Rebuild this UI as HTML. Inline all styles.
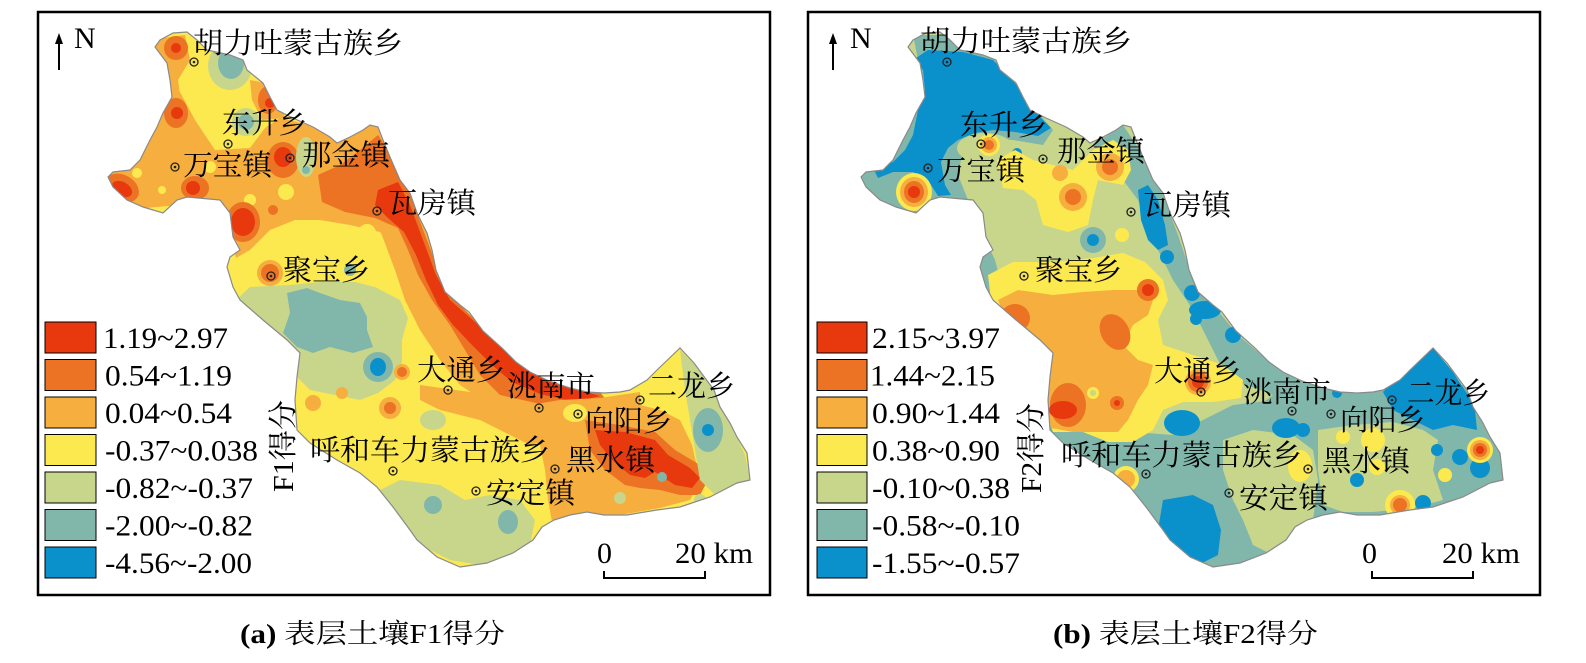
<!DOCTYPE html>
<html><head><meta charset="utf-8">
<style>
html,body{margin:0;padding:0;background:#fff;}
svg{display:block;}
.r1{fill:#e8390e}.r2{fill:#ec7224}.r3{fill:#f6ae3e}.y{fill:#fce94f}.g{fill:#c8d68b}.t{fill:#81b7aa}.b{fill:#0a91cb}
.lab{font-family:"Liberation Serif","Noto Serif CJK SC",serif;font-size:29px;fill:#000;}
.leg{font-family:"Liberation Serif",serif;font-size:30px;fill:#000;}
.dot circle.o{fill:none;stroke:#222;stroke-width:1.3}
.dot circle.i{fill:#222}
</style></head>
<body>
<svg width="1586" height="663" viewBox="0 0 1586 663" xmlns="http://www.w3.org/2000/svg">
<defs>
<clipPath id="cp"><path d="M160,40 L173,33 L187,32 L197,40 L207,50 L230,55 L243,60 L247,70 L263,83 L270,97 L277,110 L293,118 L313,127 L330,137 L337,143 L350,137 L363,130 L370,125 L378,127 L383,140 L390,157 L400,180 L410,193 L417,213 L427,233 L432,250 L436,270 L445,292 L460,305 L469,312 L483,331 L502,348 L516,362 L530,372 L549,381 L570,388 L587,392 L604,393 L620,392 L630,390 L647,380 L657,370 L680,348 L694,363 L714,390 L720,407 L730,423 L737,437 L747,453 L750,480 L737,483 L710,497 L680,507 L657,510 L627,515 L604,515 L587,512 L570,515 L554,520 L542,527 L533,540 L513,553 L487,563 L460,567 L437,557 L417,540 L410,530 L393,507 L377,487 L360,473 L337,460 L310,443 L297,430 L295,400 L297,377 L300,353 L287,340 L263,320 L240,300 L233,287 L227,267 L230,257 L240,250 L233,237 L230,213 L220,200 L187,197 L177,200 L163,213 L143,207 L127,200 L113,187 L108,177 L113,172 L130,170 L140,160 L145,150 L150,140 L157,127 L163,113 L172,97 L170,80 L167,63 L155,47 Z"/></clipPath>
<path id="bd" d="M160,40 L173,33 L187,32 L197,40 L207,50 L230,55 L243,60 L247,70 L263,83 L270,97 L277,110 L293,118 L313,127 L330,137 L337,143 L350,137 L363,130 L370,125 L378,127 L383,140 L390,157 L400,180 L410,193 L417,213 L427,233 L432,250 L436,270 L445,292 L460,305 L469,312 L483,331 L502,348 L516,362 L530,372 L549,381 L570,388 L587,392 L604,393 L620,392 L630,390 L647,380 L657,370 L680,348 L694,363 L714,390 L720,407 L730,423 L737,437 L747,453 L750,480 L737,483 L710,497 L680,507 L657,510 L627,515 L604,515 L587,512 L570,515 L554,520 L542,527 L533,540 L513,553 L487,563 L460,567 L437,557 L417,540 L410,530 L393,507 L377,487 L360,473 L337,460 L310,443 L297,430 L295,400 L297,377 L300,353 L287,340 L263,320 L240,300 L233,287 L227,267 L230,257 L240,250 L233,237 L230,213 L220,200 L187,197 L177,200 L163,213 L143,207 L127,200 L113,187 L108,177 L113,172 L130,170 L140,160 L145,150 L150,140 L157,127 L163,113 L172,97 L170,80 L167,63 L155,47 Z"/>
</defs>

<!-- frames -->
<rect x="38" y="12" width="732" height="583" fill="none" stroke="#000" stroke-width="2.5"/>
<rect x="808" y="12" width="732" height="583" fill="none" stroke="#000" stroke-width="2.5"/>

<!-- ============ F1 map ============ -->
<g clip-path="url(#cp)">
<rect x="0" y="0" width="800" height="600" class="y"/>
<!-- north -->
<polygon class="r3" points="100,170 150,125 155,90 180,92 195,120 215,150 250,148 265,128 280,118 330,130 375,115 400,170 430,240 445,285 420,268 395,252 380,232 350,225 320,220 295,220 270,230 250,250 236,258 225,215 180,205 100,212"/>
<polygon class="r3" points="150,40 185,35 190,60 178,80 180,95 160,100"/>
<polygon class="r3" points="250,80 275,85 285,118 262,120 252,100"/>
<circle class="y" cx="137" cy="173" r="5"/><circle class="y" cx="162" cy="190" r="4"/>
<circle class="y" cx="286" cy="192" r="8"/><circle class="y" cx="210" cy="167" r="6"/>
<circle class="y" cx="250" cy="200" r="6"/><circle class="y" cx="367" cy="233" r="9"/>
<ellipse class="r2" cx="176" cy="48" rx="12" ry="12"/><circle class="r1" cx="176" cy="48" r="5"/>
<ellipse class="r2" cx="176" cy="113" rx="12" ry="15"/><circle class="r1" cx="177" cy="113" r="6"/>
<ellipse class="r2" cx="268" cy="100" rx="10" ry="14"/><circle class="r1" cx="270" cy="103" r="5"/>
<ellipse class="r2" cx="283" cy="160" rx="16" ry="18"/><ellipse class="r1" cx="283" cy="157" rx="9" ry="10"/>
<ellipse class="r2" cx="195" cy="188" rx="14" ry="12"/><circle class="r1" cx="193" cy="188" r="7"/>
<ellipse class="r2" cx="122" cy="188" rx="18" ry="13" transform="rotate(30 122 188)"/><ellipse class="r1" cx="122" cy="189" rx="11" ry="7" transform="rotate(30 122 189)"/>
<ellipse class="r2" cx="243" cy="222" rx="17" ry="20"/><ellipse class="r1" cx="243" cy="222" rx="12" ry="14"/>
<circle class="r2" cx="273" cy="210" r="5"/>
<circle class="r3" cx="270" cy="273" r="13"/><circle class="r2" cx="270" cy="273" r="9"/>
<ellipse class="g" cx="230" cy="66" rx="22" ry="24"/><ellipse class="t" cx="231" cy="63" rx="13" ry="16"/>
<circle class="g" cx="246" cy="122" r="14"/><circle class="t" cx="246" cy="122" r="8"/>
<ellipse class="g" cx="306" cy="157" rx="10" ry="20"/><circle class="t" cx="306" cy="170" r="4"/>
<circle class="t" cx="350" cy="270" r="6"/>
<!-- NE bands -->
<polygon class="r3" points="380,230 400,215 420,240 440,280 460,305 490,335 520,365 560,385 600,395 560,420 520,420 490,405 460,385 440,360 420,330 405,300 395,270"/>
<polygon class="r2" points="318,175 340,165 360,150 378,135 395,160 410,195 425,235 440,275 455,300 480,325 505,350 525,370 560,385 600,392 610,405 590,415 560,410 530,405 500,395 480,375 465,350 450,325 432,300 418,275 408,250 398,228 375,218 345,212 322,202"/>
<polygon class="r1" points="378,190 398,182 410,205 423,240 436,275 450,300 475,322 500,345 520,363 545,377 580,390 600,396 575,402 540,394 512,382 492,365 472,345 453,325 438,305 426,280 416,255 404,232 388,218 375,205"/>
<circle class="r1" cx="390" cy="200" r="12"/>
<!-- middle -->
<polygon class="g" points="236,300 250,287 290,285 320,282 355,282 375,287 400,300 408,318 402,340 402,362 395,380 378,393 360,400 335,395 310,390 295,375 290,350 250,330"/>
<polygon class="t" points="287,293 307,288 320,293 340,300 360,303 367,317 367,330 373,347 353,353 330,347 313,353 297,347 283,333 290,313"/>
<circle class="g" cx="378" cy="367" r="19"/>
<circle class="t" cx="378" cy="367" r="15"/><ellipse class="b" cx="378" cy="367" rx="8" ry="9"/>
<circle class="r3" cx="402" cy="372" r="8"/><circle class="r2" cx="402" cy="372" r="5"/>
<!-- south -->
<circle class="r3" cx="313" cy="403" r="8"/><circle class="r3" cx="342" cy="393" r="6"/>
<circle class="r3" cx="390" cy="408" r="11"/><circle class="r2" cx="390" cy="408" r="6"/>
<ellipse class="g" cx="433" cy="420" rx="13" ry="10"/>
<polygon class="g" points="380,490 400,480 440,485 465,500 490,495 520,500 535,520 530,545 510,560 480,565 450,560 420,545 400,520"/>
<circle class="t" cx="433" cy="505" r="9"/><ellipse class="t" cx="508" cy="522" rx="10" ry="12"/>
<polygon class="r3" points="420,385 470,392 500,395 545,405 550,440 530,445 500,430 480,420 440,410 420,400"/>
<polygon class="r3" points="530,405 560,400 600,398 640,392 660,398 680,420 692,445 700,480 690,500 660,508 620,515 590,514 570,518 552,522 548,500 545,470 540,445 528,425"/>
<ellipse class="y" cx="575" cy="413" rx="12" ry="9"/>
<polygon class="r2" points="585,420 620,425 655,432 675,450 700,465 708,480 700,495 680,495 660,490 640,488 625,485 605,470 590,450"/>
<polygon class="r1" points="595,430 625,432 655,440 668,455 690,468 700,478 692,488 675,485 655,472 645,478 630,475 612,460 600,445"/>
<polygon class="y" points="640,392 660,375 680,350 690,365 695,400 680,420 660,410 640,405"/>
<polygon class="g" points="680,350 700,370 720,400 745,455 750,480 735,490 715,495 700,480 695,450 690,420 685,390"/>
<ellipse class="t" cx="708" cy="430" rx="15" ry="22"/><circle class="b" cx="708" cy="430" r="6"/>
<circle class="t" cx="662" cy="477" r="5"/><circle class="g" cx="700" cy="500" r="6"/><circle class="g" cx="620" cy="498" r="6"/>
</g>
<use href="#bd" fill="none" stroke="#8a8a8a" stroke-width="1.2"/>

<!-- ============ F2 map ============ -->
<g transform="translate(753,0)">
<g clip-path="url(#cp)">
<rect x="0" y="0" width="800" height="600" class="g"/>
<polygon class="t" points="100,170 120,150 150,140 160,100 165,60 160,35 215,35 240,58 270,95 300,130 290,145 260,140 225,138 210,150 205,175 215,200 228,230 242,260 250,290 235,300 220,260 200,210 150,215 100,210"/>
<polygon class="t" points="340,145 370,125 390,155 410,195 425,235 440,280 460,305 485,335 505,352 530,372 560,385 600,392 640,390 660,370 680,348 700,400 720,440 740,460 750,480 700,500 650,510 600,515 560,520 540,535 520,555 480,567 440,560 410,530 390,505 380,490 400,470 430,440 470,420 500,410 520,395 480,380 470,370 455,340 440,310 420,280 405,250 395,225 385,200 370,180 355,165"/>
<polygon class="t" points="290,425 420,435 480,405 560,395 640,392 760,380 760,580 290,580"/>
<polygon class="b" points="160,60 175,50 210,52 240,60 260,80 275,102 290,120 298,128 285,136 262,132 240,130 222,133 205,140 195,148 188,162 192,185 198,195 185,196 175,180 160,172 140,172 125,178 120,168 140,162 152,150 160,135 165,110 172,90 170,70"/>
<ellipse class="g" cx="232" cy="148" rx="28" ry="15"/>
<circle class="y" cx="236" cy="145" r="11"/><circle class="r3" cx="236" cy="145" r="8"/><circle class="r2" cx="236" cy="145" r="5"/>
<circle class="b" cx="264" cy="153" r="5"/>
<!-- west arm red spot -->
<ellipse class="y" cx="161" cy="192" rx="18" ry="19"/><ellipse class="r3" cx="161" cy="192" rx="14" ry="15"/>
<ellipse class="r2" cx="161" cy="192" rx="10" ry="11"/><circle class="r1" cx="161" cy="192" r="6"/>
<!-- north-central yellow -->
<polygon class="y" points="244,160 262,150 280,160 300,165 320,170 340,150 360,140 375,150 378,170 370,185 345,180 340,200 335,225 315,232 290,225 283,200 270,190 250,188"/>
<circle class="r3" cx="307" cy="173" r="8"/>
<circle class="r3" cx="320" cy="197" r="14"/><circle class="r2" cx="320" cy="197" r="8"/>
<circle class="r3" cx="357" cy="167" r="14"/><circle class="r2" cx="357" cy="167" r="8"/>
<circle class="t" cx="340" cy="240" r="13"/><circle class="b" cx="340" cy="240" r="6"/>
<circle class="y" cx="369" cy="235" r="7"/>
<polygon class="b" points="385,190 395,185 405,200 412,225 415,245 405,250 395,240 388,220"/>
<circle class="b" cx="414" cy="257" r="7"/><circle class="b" cx="439" cy="293" r="8"/>
<ellipse class="b" cx="452" cy="310" rx="16" ry="9"/><circle class="b" cx="480" cy="335" r="8"/>
<circle class="b" cx="443" cy="319" r="6"/>
<!-- yellow band / orange -->
<polygon class="y" points="235,275 260,262 300,262 340,258 370,253 392,262 410,280 415,300 405,320 410,345 440,355 470,365 490,380 488,398 460,402 430,402 410,410 400,430 380,442 355,442 330,432 300,432 290,400 285,360 260,340 245,320 238,300"/>
<polygon class="r3" points="245,300 265,290 300,295 330,292 360,290 385,290 400,300 395,315 380,325 370,345 385,360 400,365 395,385 385,400 375,420 365,432 345,432 320,432 298,428 293,400 292,380 285,350 260,335"/>
<ellipse class="r2" cx="262" cy="318" rx="15" ry="14"/>
<ellipse class="r2" cx="362" cy="332" rx="14" ry="19" transform="rotate(-30 362 332)"/>
<circle class="r2" cx="395" cy="290" r="11"/><circle class="r1" cx="395" cy="290" r="6"/>
<ellipse class="r2" cx="315" cy="405" rx="18" ry="22"/><ellipse class="r1" cx="310" cy="410" rx="14" ry="9"/>
<circle class="y" cx="340" cy="393" r="6"/><circle class="g" cx="340" cy="393" r="3"/>
<circle class="r2" cx="364" cy="403" r="7"/><circle class="r1" cx="364" cy="403" r="3"/>
<circle class="r3" cx="445" cy="382" r="13"/><circle class="r2" cx="445" cy="382" r="10"/><circle class="r1" cx="445" cy="382" r="6"/>
<!-- south -->
<polygon class="g" points="470,440 500,430 540,435 560,450 565,480 560,520 545,540 520,555 500,545 490,520 480,500 470,470"/>
<polygon class="g" points="565,430 600,425 640,422 670,430 685,440 680,470 690,500 660,508 620,512 590,512 570,505 565,470"/>
<ellipse class="b" cx="429" cy="423" rx="18" ry="13"/>
<polygon class="b" points="410,500 440,495 460,505 468,530 465,555 445,565 420,555 405,530"/>
<ellipse class="b" cx="533" cy="428" rx="14" ry="10"/>
<polygon class="b" points="630,392 640,380 660,362 680,348 700,372 715,395 722,410 724,430 700,425 680,430 660,420 640,410"/>
<circle class="b" cx="550" cy="430" r="7"/><circle class="b" cx="584" cy="393" r="5"/>
<circle class="b" cx="707" cy="457" r="8"/><circle class="b" cx="727" cy="468" r="10"/><circle class="b" cx="684" cy="450" r="6"/>
<circle class="b" cx="604" cy="480" r="7"/><circle class="b" cx="670" cy="503" r="8"/>
<circle class="t" cx="605" cy="482" r="11" fill-opacity="0"/>
<ellipse class="y" cx="547" cy="466" rx="12" ry="16"/>
<circle class="y" cx="590" cy="437" r="7"/><circle class="y" cx="620" cy="440" r="12"/>
<circle class="y" cx="624" cy="467" r="8"/><circle class="y" cx="692" cy="475" r="7"/>
<circle class="y" cx="727" cy="450" r="13"/><circle class="r3" cx="727" cy="450" r="10"/><circle class="r2" cx="727" cy="450" r="7"/><circle class="r1" cx="727" cy="450" r="4"/>
<circle class="y" cx="647" cy="505" r="15"/><circle class="r3" cx="647" cy="505" r="10"/><circle class="r2" cx="647" cy="505" r="7"/>
<circle class="y" cx="373" cy="479" r="13"/><circle class="r3" cx="373" cy="479" r="9"/>
</g>
<use href="#bd" fill="none" stroke="#8a8a8a" stroke-width="1.2"/>
</g>

<!-- dots -->
<g class="dot">
<g transform="translate(194,62)"><circle class="o" r="4"/><circle class="i" r="1.3"/></g>
<g transform="translate(228,144)"><circle class="o" r="4"/><circle class="i" r="1.3"/></g>
<g transform="translate(175,167)"><circle class="o" r="4"/><circle class="i" r="1.3"/></g>
<g transform="translate(290,158)"><circle class="o" r="4"/><circle class="i" r="1.3"/></g>
<g transform="translate(377,211)"><circle class="o" r="4"/><circle class="i" r="1.3"/></g>
<g transform="translate(271,276)"><circle class="o" r="4"/><circle class="i" r="1.3"/></g>
<g transform="translate(448,390)"><circle class="o" r="4"/><circle class="i" r="1.3"/></g>
<g transform="translate(539,408)"><circle class="o" r="4"/><circle class="i" r="1.3"/></g>
<g transform="translate(640,400)"><circle class="o" r="4"/><circle class="i" r="1.3"/></g>
<g transform="translate(578,414)"><circle class="o" r="4"/><circle class="i" r="1.3"/></g>
<g transform="translate(393,471)"><circle class="o" r="4"/><circle class="i" r="1.3"/></g>
<g transform="translate(555,469)"><circle class="o" r="4"/><circle class="i" r="1.3"/></g>
<g transform="translate(476,491)"><circle class="o" r="4"/><circle class="i" r="1.3"/></g>
<g transform="translate(947,62)"><circle class="o" r="4"/><circle class="i" r="1.3"/></g>
<g transform="translate(981,144)"><circle class="o" r="4"/><circle class="i" r="1.3"/></g>
<g transform="translate(928,168)"><circle class="o" r="4"/><circle class="i" r="1.3"/></g>
<g transform="translate(1043,159)"><circle class="o" r="4"/><circle class="i" r="1.3"/></g>
<g transform="translate(1131,212)"><circle class="o" r="4"/><circle class="i" r="1.3"/></g>
<g transform="translate(1024,276)"><circle class="o" r="4"/><circle class="i" r="1.3"/></g>
<g transform="translate(1201,392)"><circle class="o" r="4"/><circle class="i" r="1.3"/></g>
<g transform="translate(1292,411)"><circle class="o" r="4"/><circle class="i" r="1.3"/></g>
<g transform="translate(1392,400)"><circle class="o" r="4"/><circle class="i" r="1.3"/></g>
<g transform="translate(1331,414)"><circle class="o" r="4"/><circle class="i" r="1.3"/></g>
<g transform="translate(1146,474)"><circle class="o" r="4"/><circle class="i" r="1.3"/></g>
<g transform="translate(1308,469)"><circle class="o" r="4"/><circle class="i" r="1.3"/></g>
<g transform="translate(1229,493)"><circle class="o" r="4"/><circle class="i" r="1.3"/></g>
</g>

<!-- place labels left -->
<g class="lab">
<text x="193" y="53" textLength="210" lengthAdjust="spacingAndGlyphs">胡力吐蒙古族乡</text>
<text x="222" y="133" textLength="85" lengthAdjust="spacingAndGlyphs">东升乡</text>
<text x="183" y="175" textLength="89" lengthAdjust="spacingAndGlyphs">万宝镇</text>
<text x="302" y="165" textLength="88" lengthAdjust="spacingAndGlyphs">那金镇</text>
<text x="388" y="213" textLength="88" lengthAdjust="spacingAndGlyphs">瓦房镇</text>
<text x="283" y="280" textLength="87" lengthAdjust="spacingAndGlyphs">聚宝乡</text>
<text x="417" y="380" textLength="88" lengthAdjust="spacingAndGlyphs">大通乡</text>
<text x="507" y="396" textLength="88" lengthAdjust="spacingAndGlyphs">洮南市</text>
<text x="648" y="396" textLength="87" lengthAdjust="spacingAndGlyphs">二龙乡</text>
<text x="585" y="431" textLength="87" lengthAdjust="spacingAndGlyphs">向阳乡</text>
<text x="310" y="460" textLength="240" lengthAdjust="spacingAndGlyphs">呼和车力蒙古族乡</text>
<text x="566" y="470" textLength="89" lengthAdjust="spacingAndGlyphs">黑水镇</text>
<text x="486" y="503" textLength="89" lengthAdjust="spacingAndGlyphs">安定镇</text>
<text transform="translate(293,492) rotate(-90)" textLength="92" lengthAdjust="spacingAndGlyphs">F1得分</text>
<!-- right -->
<text x="920" y="51" textLength="212" lengthAdjust="spacingAndGlyphs">胡力吐蒙古族乡</text>
<text x="960" y="135" textLength="87" lengthAdjust="spacingAndGlyphs">东升乡</text>
<text x="937" y="180" textLength="88" lengthAdjust="spacingAndGlyphs">万宝镇</text>
<text x="1057" y="161" textLength="88" lengthAdjust="spacingAndGlyphs">那金镇</text>
<text x="1143" y="215" textLength="88" lengthAdjust="spacingAndGlyphs">瓦房镇</text>
<text x="1035" y="280" textLength="87" lengthAdjust="spacingAndGlyphs">聚宝乡</text>
<text x="1154" y="381" textLength="87" lengthAdjust="spacingAndGlyphs">大通乡</text>
<text x="1243" y="402" textLength="88" lengthAdjust="spacingAndGlyphs">洮南市</text>
<text x="1407" y="403" textLength="83" lengthAdjust="spacingAndGlyphs">二龙乡</text>
<text x="1340" y="430" textLength="85" lengthAdjust="spacingAndGlyphs">向阳乡</text>
<text x="1061" y="465" textLength="241" lengthAdjust="spacingAndGlyphs">呼和车力蒙古族乡</text>
<text x="1322" y="471" textLength="88" lengthAdjust="spacingAndGlyphs">黑水镇</text>
<text x="1239" y="508" textLength="89" lengthAdjust="spacingAndGlyphs">安定镇</text>
<text transform="translate(1041,493) rotate(-90)" textLength="90" lengthAdjust="spacingAndGlyphs">F2得分</text>
</g>

<!-- north arrows -->
<g stroke="#000" stroke-width="2" fill="#000">
<line x1="59" y1="70" x2="59" y2="40"/><polygon points="59,33 55,44 63,44" stroke="none"/>
<line x1="833" y1="70" x2="833" y2="40"/><polygon points="833,33 829,44 837,44" stroke="none"/>
</g>
<text x="74" y="48" class="leg" font-size="29">N</text>
<text x="850" y="48" class="leg" font-size="29">N</text>

<!-- legends -->
<g stroke="#000" stroke-width="1">
<rect x="45" y="322" width="51" height="31" fill="#e8390e"/>
<rect x="45" y="359.5" width="51" height="31" fill="#ec7224"/>
<rect x="45" y="397" width="51" height="31" fill="#f6ae3e"/>
<rect x="45" y="434.5" width="51" height="31" fill="#fce94f"/>
<rect x="45" y="472" width="51" height="31" fill="#c8d68b"/>
<rect x="45" y="509.5" width="51" height="31" fill="#81b7aa"/>
<rect x="45" y="547" width="51" height="31" fill="#0a91cb"/>
<rect x="817" y="322" width="50" height="31" fill="#e8390e"/>
<rect x="817" y="359.5" width="50" height="31" fill="#ec7224"/>
<rect x="817" y="397" width="50" height="31" fill="#f6ae3e"/>
<rect x="817" y="434.5" width="50" height="31" fill="#fce94f"/>
<rect x="817" y="472" width="50" height="31" fill="#c8d68b"/>
<rect x="817" y="509.5" width="50" height="31" fill="#81b7aa"/>
<rect x="817" y="547" width="50" height="31" fill="#0a91cb"/>
</g>
<g class="leg">
<text x="103" y="348" textLength="125" lengthAdjust="spacingAndGlyphs">1.19~2.97</text>
<text x="105" y="385.5" textLength="127" lengthAdjust="spacingAndGlyphs">0.54~1.19</text>
<text x="105" y="423" textLength="127" lengthAdjust="spacingAndGlyphs">0.04~0.54</text>
<text x="105" y="460.5" textLength="153" lengthAdjust="spacingAndGlyphs">-0.37~0.038</text>
<text x="105" y="498" textLength="148" lengthAdjust="spacingAndGlyphs">-0.82~-0.37</text>
<text x="105" y="535.5" textLength="148" lengthAdjust="spacingAndGlyphs">-2.00~-0.82</text>
<text x="105" y="573" textLength="147" lengthAdjust="spacingAndGlyphs">-4.56~-2.00</text>
<text x="872" y="348" textLength="128" lengthAdjust="spacingAndGlyphs">2.15~3.97</text>
<text x="870" y="385.5" textLength="125" lengthAdjust="spacingAndGlyphs">1.44~2.15</text>
<text x="872" y="423" textLength="128" lengthAdjust="spacingAndGlyphs">0.90~1.44</text>
<text x="872" y="460.5" textLength="128" lengthAdjust="spacingAndGlyphs">0.38~0.90</text>
<text x="872" y="498" textLength="138" lengthAdjust="spacingAndGlyphs">-0.10~0.38</text>
<text x="872" y="535.5" textLength="148" lengthAdjust="spacingAndGlyphs">-0.58~-0.10</text>
<text x="872" y="573" textLength="148" lengthAdjust="spacingAndGlyphs">-1.55~-0.57</text>
</g>

<!-- scale bars -->
<g class="leg" font-size="29">
<text x="597" y="563">0</text>
<text x="675" y="563" textLength="78" lengthAdjust="spacingAndGlyphs">20 km</text>
<text x="1362" y="563">0</text>
<text x="1442" y="563" textLength="78" lengthAdjust="spacingAndGlyphs">20 km</text>
</g>
<path d="M604,571 V578 H705 V571" fill="none" stroke="#000" stroke-width="2"/>
<path d="M1372,571 V578 H1473 V571" fill="none" stroke="#000" stroke-width="2"/>

<!-- captions -->
<text x="240" y="643" font-family="Liberation Serif, Noto Serif CJK SC, serif" font-size="27" textLength="265" lengthAdjust="spacingAndGlyphs"><tspan font-weight="bold">(a)</tspan> 表层土壤F1得分</text>
<text x="1053" y="643" font-family="Liberation Serif, Noto Serif CJK SC, serif" font-size="27" textLength="265" lengthAdjust="spacingAndGlyphs"><tspan font-weight="bold">(b)</tspan> 表层土壤F2得分</text>
</svg>
</body></html>
